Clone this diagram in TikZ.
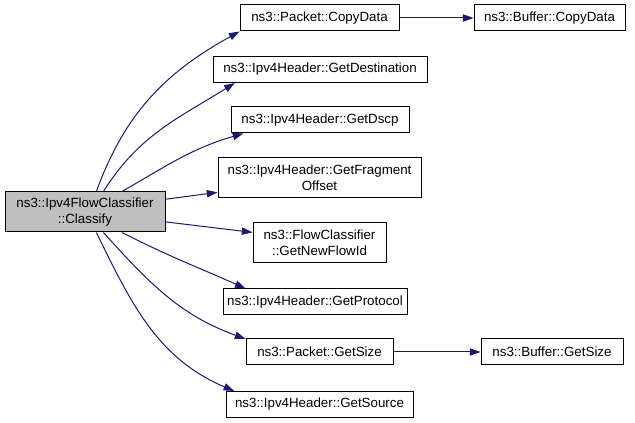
\documentclass[tikz,border=0pt]{standalone}
\usepackage{fontspec}
\setmainfont{Liberation Sans}
\usepackage{tikz}
\usetikzlibrary{arrows.meta}
\definecolor{callblue}{RGB}{25,25,112}
\definecolor{mainfill}{RGB}{191,191,191}

\begin{document}
\begin{tikzpicture}[x=0.75pt, y=0.75pt, every node/.style={text centered, font=\fontsize{10}{12}\selectfont, inner xsep=2pt, inner ysep=1pt},
    fn/.style={draw, fill=white, line width=0.75pt, minimum height=19.5pt, align=center},
    call/.style={-{Triangle[length=8pt,width=5.5pt]}, line width=0.75pt, color=callblue}]
        \useasboundingbox (0,0) rectangle (635,-423);
        \node[fn, fill=mainfill, minimum width=120pt, minimum height=30pt] (classify) at (85,-212) {ns3::Ipv4FlowClassifier\\::Classify};
        \node[fn, minimum width=119.25pt] (pktcopy) at (319.5,-18) {ns3::Packet::CopyData};
        \node[fn, minimum width=160.5pt] (hdrdest) at (320,-69.5) {ns3::Ipv4Header::GetDestination};
        \node[fn, minimum width=133.5pt] (hdrdscp) at (320,-120) {ns3::Ipv4Header::GetDscp};
        \node[fn, minimum width=152.25pt, minimum height=30pt] (hdrfrag) at (319.5,-178) {ns3::Ipv4Header::GetFragment\\Offset};
        \node[fn, minimum width=99.75pt, minimum height=30pt] (newflow) at (319.5,-243) {ns3::FlowClassifier\\::GetNewFlowId};
        \node[fn, minimum width=138pt] (hdrproto) at (315,-302) {ns3::Ipv4Header::GetProtocol};
        \node[fn, minimum width=110.25pt] (pktsize) at (319.5,-352) {ns3::Packet::GetSize};
        \node[fn, minimum width=140.25pt] (hdrsrc) at (319.5,-404.5) {ns3::Ipv4Header::GetSource};
        \node[fn, minimum width=113.25pt] (bufcopy) at (549.5,-18) {ns3::Buffer::CopyData};
        \node[fn, minimum width=106.5pt] (bufsize) at (552,-352) {ns3::Buffer::GetSize};
        
        \draw[call] (classify.61) to[out=70, in=209] (pktcopy.south west);
        \draw[call] (classify.48) to[out=58, in=212] (hdrdest.189.2);
        \draw[call] (classify.29) to[out=30, in=196] (hdrdscp.190.5);
        \draw[call] (classify.9.2) -- (hdrfrag.188.4);
        \draw[call] (classify.-7.8) -- (newflow.171.4);
        \draw[call] (classify.-29) to[out=-27, in=156] (hdrproto.169);
        \draw[call] (classify.-48) to[out=-48, in=160] (pktsize.170.2);
        \draw[call] (classify.-61) to[out=-64, in=157] (hdrsrc.171);
        \draw[call] (pktcopy) -- (bufcopy);
        \draw[call] (pktsize) -- (bufsize);
    \end{tikzpicture}
\end{document}
